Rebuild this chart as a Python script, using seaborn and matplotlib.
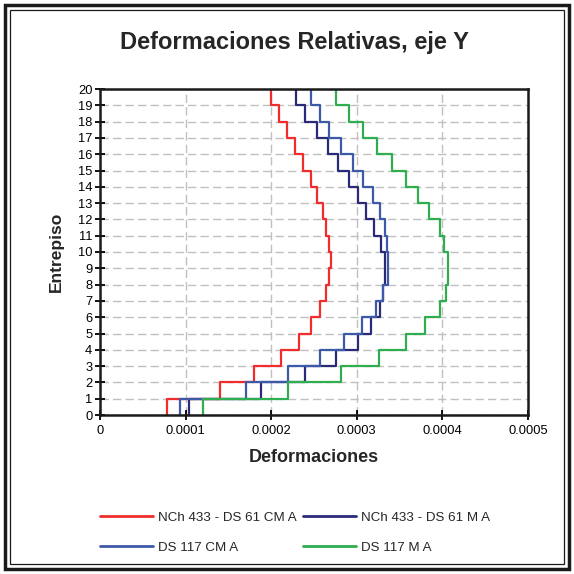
import numpy as np
import pandas as pd
import matplotlib
matplotlib.use('Agg')
import matplotlib.pyplot as plt
import seaborn as sns
from matplotlib.patches import Rectangle

# storey numbers and drift values per storey (storey 1 .. 20)
storeys = list(range(1, 21))
nch_cm = [0.000078, 0.000140, 0.000180, 0.000211, 0.000232, 0.000247, 0.000257, 0.000264, 0.000268, 0.000270,
          0.000268, 0.000264, 0.000260, 0.000253, 0.000246, 0.000237, 0.000228, 0.000218, 0.000209, 0.000200]
nch_m = [0.000104, 0.000188, 0.000240, 0.000276, 0.000301, 0.000317, 0.000327, 0.000331, 0.000333, 0.000333,
         0.000328, 0.000320, 0.000311, 0.000301, 0.000291, 0.000278, 0.000266, 0.000253, 0.000239, 0.000229]
ds117_cm = [0.000093, 0.000170, 0.000220, 0.000257, 0.000285, 0.000306, 0.000322, 0.000331, 0.000336, 0.000337,
            0.000335, 0.000333, 0.000327, 0.000319, 0.000307, 0.000295, 0.000282, 0.000268, 0.000257, 0.000246]
ds117_m = [0.000120, 0.000220, 0.000281, 0.000326, 0.000357, 0.000380, 0.000397, 0.000404, 0.000407, 0.000407,
           0.000402, 0.000397, 0.000384, 0.000371, 0.000357, 0.000341, 0.000324, 0.000307, 0.000291, 0.000276]

series_names = ['NCh 433 - DS 61 CM A', 'NCh 433 - DS 61 M A', 'DS 117 CM A', 'DS 117 M A']
series_vals = [nch_cm, nch_m, ds117_cm, ds117_m]
colors = ['#f02c2c', '#2a2a78', '#3d5aa8', '#2eae4e']

# build step outline: each storey value spans from floor i-1 to floor i
rows = []
for name, vals in zip(series_names, series_vals):
    for s, v in zip(storeys, vals):
        rows.append({'serie': name, 'x': v, 'y': s - 1})
        rows.append({'serie': name, 'x': v, 'y': s})
df = pd.DataFrame(rows)

sns.set_style('white')
plt.rcParams['font.family'] = ['Liberation Sans', 'DejaVu Sans']

fig = plt.figure(figsize=(5.74, 5.74), dpi=100)
ax = fig.add_axes([100 / 574, 1 - 415 / 574, 428 / 574, 326 / 574])

sns.lineplot(data=df, x='x', y='y', hue='serie', palette=colors, sort=False,
             estimator=None, linewidth=1.6, ax=ax, legend=False)

ax.set_xlim(0, 0.0005)
ax.set_ylim(0, 20)
ax.set_xticks([0, 0.0001, 0.0002, 0.0003, 0.0004, 0.0005])
ax.set_xticklabels(['0', '0.0001', '0.0002', '0.0003', '0.0004', '0.0005'])
ax.set_yticks(range(0, 21))
ax.grid(True, color='#c0c0c0', linestyle=(0, (6, 3)), linewidth=1.0)
ax.tick_params(axis='both', direction='inout', length=7, width=1.3, colors='black',
               labelsize=9.3, left=True, bottom=True)
ax.tick_params(axis='y', pad=2)
ax.tick_params(axis='x', pad=4)
for sp in ax.spines.values():
    sp.set_color('#1a1a1a')
    sp.set_linewidth(1.8)
    sp.set_visible(True)

ax.set_xlabel('Deformaciones', fontsize=13, fontweight='bold')
ax.xaxis.label.set_va('center')
ax.xaxis.set_label_coords(0.5, (415 - 458) / 326)
ax.set_ylabel('Entrepiso', fontsize=12.5, fontweight='bold')
ax.yaxis.label.set_va('center')
ax.yaxis.set_label_coords((56 - 100) / 428, 0.5)
fig.text(294 / 574, 1 - 43 / 574, 'Deformaciones Relativas, eje Y', ha='center', va='center',
         fontsize=17, fontweight='bold')

# legend filled row by row like the original
order = [0, 2, 1, 3]
handles = [plt.Line2D([], [], color=colors[i], linewidth=2) for i in order]
labels = [series_names[i] for i in order]
fig.legend(handles, labels, ncol=2, loc='upper left',
           bbox_to_anchor=(93 / 574, 1 - 505 / 574), frameon=False, fontsize=9.6,
           borderpad=0, handlelength=4.0, handletextpad=0.34, columnspacing=0.5,
           labelspacing=1.3)

# double frame around the chart
fig.patches.append(Rectangle((5 / 574, 5 / 574), 564 / 574, 564 / 574, transform=fig.transFigure,
                             fill=False, edgecolor='#1a1a1a', linewidth=2.5))
fig.patches.append(Rectangle((10 / 574, 10 / 574), 554 / 574, 554 / 574, transform=fig.transFigure,
                             fill=False, edgecolor='#1a1a1a', linewidth=0.9))

fig.savefig('out.png', dpi=100)
